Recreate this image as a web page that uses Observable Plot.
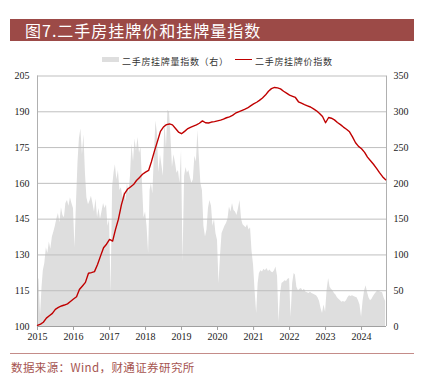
<!DOCTYPE html>
<html><head><meta charset="utf-8">
<script src="https://cdn.jsdelivr.net/npm/d3@7"></script>
<script src="https://cdn.jsdelivr.net/npm/@observablehq/plot@0.6"></script>
<style>
body{margin:0;background:#fff;}
#wrap{position:relative;width:429px;height:389px;overflow:hidden;background:#fff;}
#title{position:absolute;left:10px;top:19px;width:404px;height:22px;background:#9c4a47;color:#fff;font-family:"Noto Sans CJK SC",sans-serif;font-size:16px;line-height:22px;padding-left:15px;box-sizing:border-box;letter-spacing:1px;white-space:nowrap;}
.lg{position:absolute;font-family:"Noto Sans CJK SC",sans-serif;font-size:9px;color:#333;line-height:12px;top:56px;letter-spacing:0.7px;white-space:nowrap;}
#sw1{position:absolute;left:102px;top:57px;width:17px;height:5px;background:#dedede;}
#sw2{position:absolute;left:235px;top:58.5px;width:17px;height:1.5px;background:#c00000;}
#chart{position:absolute;left:0;top:68px;}
#rule{position:absolute;left:10px;top:353px;width:404px;height:1px;background:#c48c89;}
#cap{position:absolute;left:11px;top:360px;font-family:"Noto Sans CJK SC",sans-serif;font-size:11.5px;line-height:15px;color:#a65450;letter-spacing:0.4px;white-space:nowrap;}
</style></head>
<body>
<div id="wrap">
  <div id="title">图7.二手房挂牌价和挂牌量指数</div>
  <div id="sw1"></div><div class="lg" style="left:122px">二手房挂牌量指数（右）</div>
  <div id="sw2"></div><div class="lg" style="left:255px">二手房挂牌价指数</div>
  <div id="chart"></div>
  <div id="rule"></div>
  <div id="cap">数据来源：Wind，财通证券研究所</div>
</div>
<script>
// 二手房挂牌价指数 (left axis), monthly, Jan 2015 – Sep 2024
const price2015 = [100.5,101.0,101.8,103.5,104.5,105.5,107.2,108.0,108.6,109.0,109.5,110.5];
const price2016 = [111.5,112.5,115.5,117.0,118.5,122.3,122.6,123.0,126.0,129.5,133.0,134.5];
const price2017 = [136.5,135.8,140.5,145.0,151.0,155.6,157.5,158.5,159.5,161.2,162.5,163.8];
const price2018 = [164.7,165.4,169.0,173.5,177.5,181.8,183.6,184.6,184.9,184.5,183.0,181.5];
const price2019 = [180.8,181.8,182.8,183.5,184.0,184.5,185.2,186.2,185.4,185.3,185.7,185.9];
const price2020 = [186.2,186.5,186.9,187.5,187.9,188.5,189.4,190.0,190.5,191.0,191.6,192.5];
const price2021 = [193.3,194.0,194.8,195.8,197.0,198.6,199.7,200.2,200.0,199.6,198.6,197.8];
const price2022 = [197.0,196.5,196.0,194.2,193.6,193.0,192.5,192.0,191.2,190.4,189.3,188.0];
const price2023 = [185.4,187.6,187.3,186.6,185.5,184.6,183.6,182.7,181.6,179.5,177.0,175.5];
const price2024 = [174.5,173.0,171.0,169.5,168.0,166.3,164.5,162.8,161.5];

// 二手房挂牌量指数（右）, half-monthly (1st, 16th), Jan 2015 – Sep 2024
const vol2015 = [68,66,15,55,78,88,110,102,118,108,125,132,140,150,158,145,166,155,152,172,176,168,180,172];
const vol2016 = [165,110,175,230,262,276,240,268,215,180,170,175,182,172,160,178,152,165,150,160,172,165,170,140];
const vol2017 = [150,46,195,215,226,205,218,190,194,180,188,175,200,185,210,255,230,262,245,264,242,250,200,152];
const vol2018 = [160,140,102,190,200,185,240,287,270,215,240,225,210,288,250,302,299,264,222,240,228,214,218,200];
const vol2019 = [246,90,210,222,214,218,208,200,205,238,230,274,235,200,190,140,125,135,165,176,168,140,150,130];
const vol2020 = [120,60,100,130,135,140,144,150,167,160,172,162,160,155,165,176,150,142,140,138,142,135,138,105];
const vol2021 = [85,50,18,60,74,78,76,80,78,81,77,79,76,75,78,83,70,6,45,60,62,64,63,66];
const vol2022 = [67,13,60,74,72,55,50,52,53,50,52,48,47,46,48,46,45,44,43,40,35,25,18,30];
const vol2023 = [20,50,67,55,52,50,46,44,40,38,36,34,35,34,36,40,43,42,43,42,41,40,36,30];
const vol2024 = [13,35,50,57,48,40,36,38,42,45,48,50,49,48,47,40,35];

const leftTicks = [100,115,130,145,160,175,190,205];
const rightTicks = [0,50,100,150,200,250,300,350];
const years = [2015,2016,2017,2018,2019,2020,2021,2022,2023,2024];

const priceVals = [].concat(price2015,price2016,price2017,price2018,price2019,price2020,price2021,price2022,price2023,price2024);
const volVals = [].concat(vol2015,vol2016,vol2017,vol2018,vol2019,vol2020,vol2021,vol2022,vol2023,vol2024);

const priceData = priceVals.map((v,i)=>({date:new Date(Date.UTC(2015,i,1)), v}));
const volData = volVals.map((v,i)=>({date:new Date(Date.UTC(2015,Math.floor(i/2),i%2?16:1)), v}));

const yMin = 100, yMax = 205, rMax = 350;
const toLeft = v => yMin + v*(yMax-yMin)/rMax;
const toRight = y => Math.round((y-yMin)*rMax/(yMax-yMin));

const x0 = new Date(Date.UTC(2015,0,1)), x1 = new Date(Date.UTC(2024,8,10));
const yearTicks = years.map(y=>new Date(Date.UTC(y,0,1)));

const chart = Plot.plot({
  width: 429, height: 280,
  marginTop: 7.5, marginBottom: 22, marginLeft: 37, marginRight: 43,
  x: {type:"utc", domain:[x0,x1]},
  y: {domain:[yMin,yMax], label:null},
  style: {fontFamily:"'Liberation Serif', serif", fontSize:"10px", color:"#222", background:"#fff", overflow:"visible"},
  marks: [
    Plot.areaY(volData, {x:"date", y1: yMin, y2: d=>toLeft(d.v), fill:"#dedede", curve:"linear"}),
    Plot.ruleY(leftTicks, {stroke:"#bfbfbf", strokeWidth:1}),
    Plot.ruleX([x0,x1], {stroke:"#b0b0b0", strokeWidth:1}),
    Plot.ruleY([yMin], {stroke:"#a0a0a0", strokeWidth:1}),
    Plot.lineY(priceData, {x:"date", y:"v", stroke:"#c00000", strokeWidth:1.4}),
    Plot.axisY(leftTicks, {anchor:"left", tickSize:0, tickPadding:8, label:null}),
    Plot.axisY(rightTicks.map(toLeft), {anchor:"right", tickSize:0, tickPadding:7, label:null, tickFormat: y=>String(toRight(y))}),
    Plot.axisX(yearTicks, {tickSize:4, tickPadding:2, stroke:"#a0a0a0", tickFormat: d=>String(d.getUTCFullYear()), label:null})
  ]
});
document.getElementById("chart").appendChild(chart);
</script>
</body></html>
